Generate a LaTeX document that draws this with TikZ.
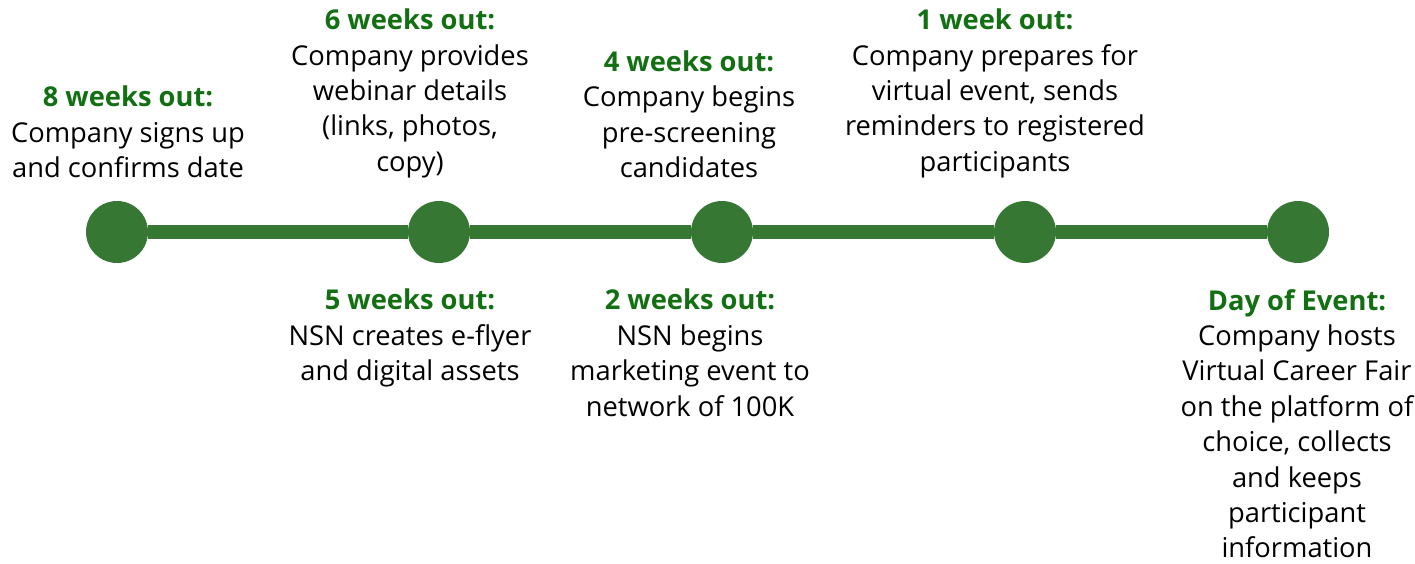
\documentclass[tikz,border=0pt]{standalone}
\usepackage{fontspec}
\setmainfont{Open Sans}
\usetikzlibrary{positioning}

\definecolor{dotgreen}{RGB}{54,120,51}
\definecolor{headgreen}{RGB}{18,112,18}

\tikzset{
    milestone/.style={circle, fill=dotgreen, minimum size=62pt, inner sep=0pt},
    note/.style={align=center, inner sep=0pt, font=\fontsize{27.3}{35.4}\selectfont},
    timeline/.style={draw=dotgreen, line width=14pt}
}
\newcommand{\when}[1]{\textcolor{headgreen}{\textbf{#1}}}

\begin{document}
\begin{tikzpicture}[x=1pt, y=1pt]
        \useasboundingbox (0,0) rectangle (1415,563);

        % dots along the line
        \node[milestone] (w8) at (117,331) {};
        \node[milestone] (w6) at (439,331) {};
        \node[milestone] (w4) at (722,331) {};
        \node[milestone] (w1) at (1025,331) {};
        \node[milestone] (day) at (1298,331) {};
        \draw[timeline] (w8) -- (w6) -- (w4) -- (w1) -- (day);

        % texts above
        \node[note, anchor=south] (t8) at (128,385) {\when{8 weeks out:}\\Company signs up\\and confirms date};
        \node[note, anchor=south] (t6) at (410,385) {\when{6 weeks out:}\\Company provides\\webinar details\\(links, photos,\\copy)};
        \node[note, anchor=south] (t4) at (689,385) {\when{4 weeks out:}\\Company begins\\pre-screening\\candidates};
        \node[note, anchor=south] (t1) at (995,385) {\when{1 week out:}\\Company prepares for\\virtual event, sends\\reminders to registered\\participants};

        % texts below
        \node[note, anchor=north] (t5) at (410,274) {\when{5 weeks out:}\\NSN creates e-flyer\\and digital assets};
        \node[note, anchor=north] (t2) at (690,274) {\when{2 weeks out:}\\NSN begins\\marketing event to\\network of 100K};
        \node[note, anchor=north] (tday) at (1297,274) {\when{Day of Event:}\\Company hosts\\Virtual Career Fair\\on the platform of\\choice, collects\\and keeps\\participant\\information};
\end{tikzpicture}
\end{document}
